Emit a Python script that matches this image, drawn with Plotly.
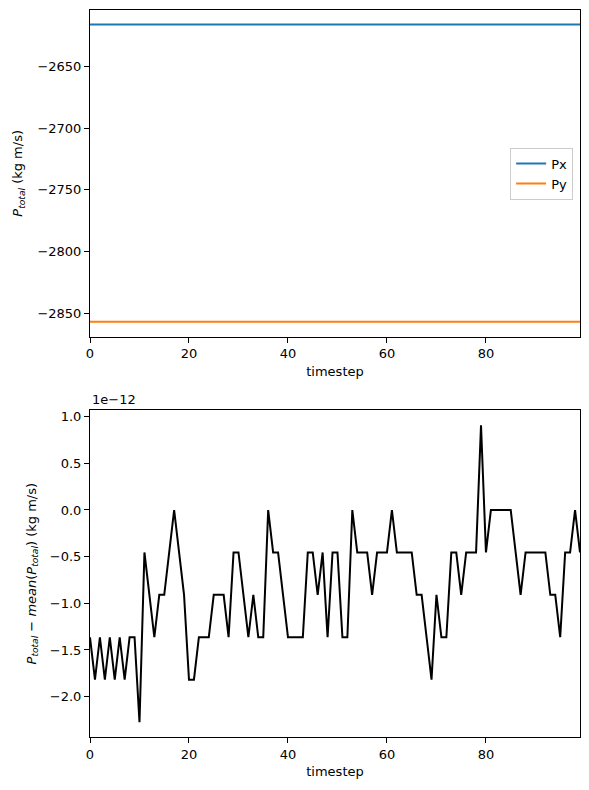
import plotly.graph_objects as go
from plotly.subplots import make_subplots

# ---- data ----
timestep = list(range(100))

# total momentum per component (kg m/s), flat over the run
px_total = [-2615.7] * 100
py_total = [-2857.1] * 100

# P_total - mean(P_total), in units of 1e-12 kg m/s
dp_total = [
    -1.364, -1.819, -1.364, -1.819, -1.364, -1.819, -1.364, -1.819, -1.364, -1.364,
    -2.274, -0.455, -0.909, -1.364, -0.909, -0.909, -0.455, 0.000, -0.455, -0.909,
    -1.819, -1.819, -1.364, -1.364, -1.364, -0.909, -0.909, -0.909, -1.364, -0.455,
    -0.455, -0.909, -1.364, -0.909, -1.364, -1.364, 0.000, -0.455, -0.455, -0.909,
    -1.364, -1.364, -1.364, -1.364, -0.455, -0.455, -0.909, -0.455, -1.364, -0.455,
    -0.455, -1.364, -1.364, 0.000, -0.455, -0.455, -0.455, -0.909, -0.455, -0.455,
    -0.455, 0.000, -0.455, -0.455, -0.455, -0.455, -0.909, -0.909, -1.364, -1.819,
    -0.909, -1.364, -1.364, -0.455, -0.455, -0.909, -0.455, -0.455, -0.455, 0.909,
    -0.455, 0.000, 0.000, 0.000, 0.000, 0.000, -0.455, -0.909, -0.455, -0.455,
    -0.455, -0.455, -0.455, -0.909, -0.909, -1.364, -0.455, -0.455, 0.000, -0.455,
]

FONT = "DejaVu Sans"

fig = make_subplots(rows=2, cols=1, vertical_spacing=0.1014)

fig.add_trace(go.Scatter(x=timestep, y=px_total, mode="lines", name="Px",
                         line=dict(color="#1f77b4", width=2)), row=1, col=1)
fig.add_trace(go.Scatter(x=timestep, y=py_total, mode="lines", name="Py",
                         line=dict(color="#ff7f0e", width=2)), row=1, col=1)
fig.add_trace(go.Scatter(x=timestep, y=dp_total, mode="lines", showlegend=False,
                         line=dict(color="black", width=2)), row=2, col=1)

axis_style = dict(showline=True, linecolor="black", linewidth=1, mirror=True,
                  ticks="outside", ticklen=5, tickcolor="black", showgrid=False,
                  zeroline=False, automargin=False,
                  tickfont=dict(family=FONT, size=13, color="black"))

for r in (1, 2):
    fig.update_xaxes(axis_style, range=[0, 99], dtick=20,
                     title=dict(text="timestep", standoff=6,
                                font=dict(family=FONT, size=13, color="black")),
                     row=r, col=1)

fig.update_yaxes(axis_style, range=[-2869.2, -2603.9], dtick=50,
                 title=dict(text="<i>P</i><sub><i>total</i></sub> (kg m/s)", standoff=11,
                            font=dict(family=FONT, size=13, color="black")),
                 row=1, col=1)
fig.update_yaxes(axis_style, range=[-2.433, 1.068], dtick=0.5, tickformat=".1f",
                 title=dict(text="<i>P</i><sub><i>total</i></sub> − <i>mean</i>(<i>P</i><sub><i>total</i></sub>) (kg m/s)",
                            standoff=10, font=dict(family=FONT, size=13, color="black")),
                 row=2, col=1)

fig.add_annotation(text="1e−12", xref="x2 domain", yref="y2 domain", x=0, y=1,
                   xanchor="left", yanchor="bottom", showarrow=False, yshift=1,
                   font=dict(family=FONT, size=13, color="black"))

# page body adds ~8px offset, so the figure is drawn 8px smaller
fig.update_layout(
    width=581, height=782,
    margin=dict(l=82, r=9, t=2, b=53, autoexpand=False),
    paper_bgcolor="white", plot_bgcolor="white",
    font=dict(family=FONT, size=13, color="black"),
    legend=dict(x=0.986, y=0.775, xanchor="right", yanchor="middle",
                bordercolor="#cccccc", borderwidth=1, bgcolor="white",
                tracegroupgap=0, font=dict(family=FONT, size=13, color="black")),
)

fig.write_html("out.html")
